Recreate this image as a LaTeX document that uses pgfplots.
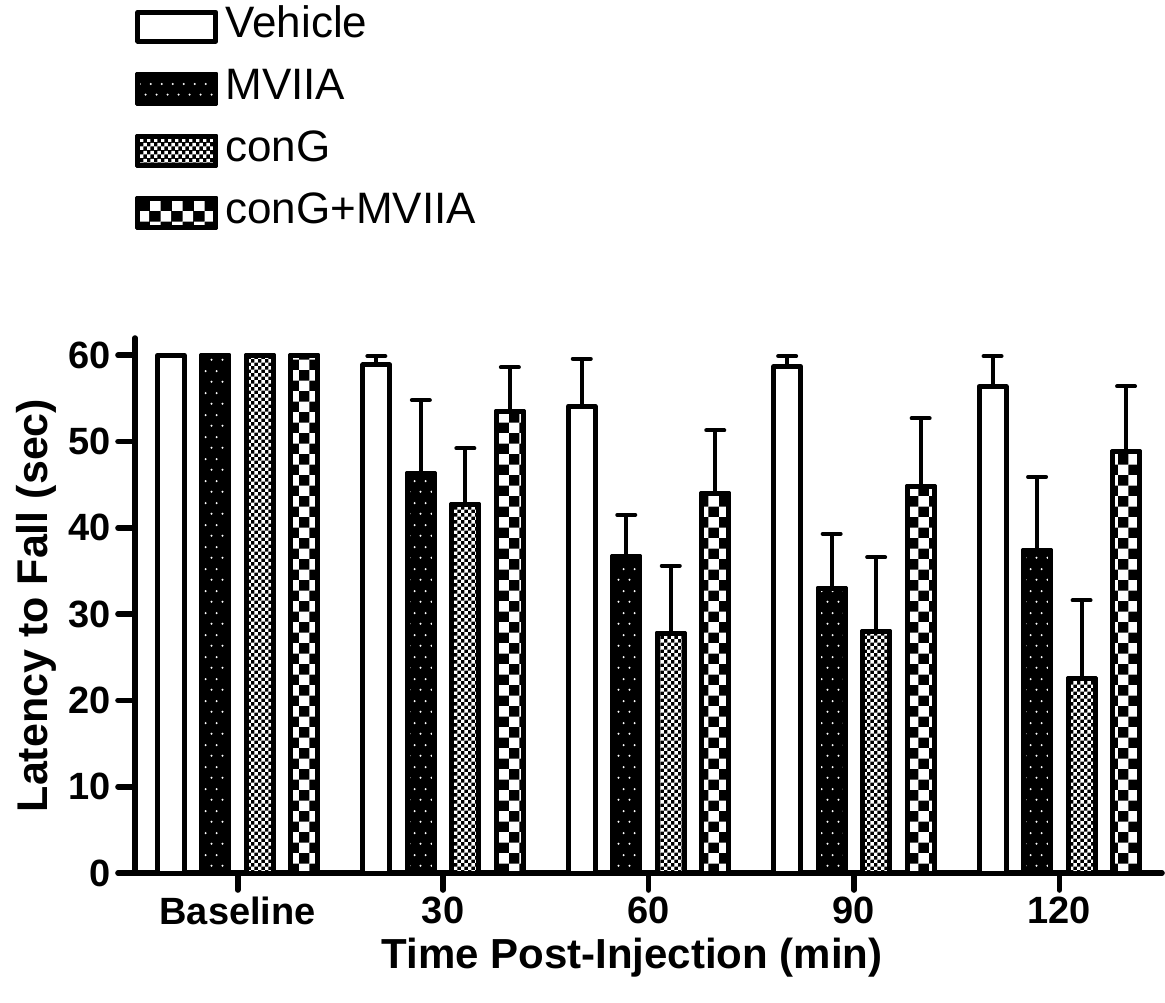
\documentclass[border=0pt]{standalone}
\usepackage{fontspec}
\setmainfont{Liberation Sans}
\usepackage{pgfplots}
\pgfplotsset{compat=1.18}
\usetikzlibrary{patterns}

% white dots, staggered rows (MVIIA)
\pgfdeclarepatternformonly{wdots}{\pgfpointorigin}{\pgfpoint{5.5pt}{11pt}}{\pgfpoint{5.5pt}{11pt}}{
  \pgfpathcircle{\pgfpoint{1.4pt}{2.75pt}}{0.6pt}
  \pgfpathcircle{\pgfpoint{4.15pt}{8.25pt}}{0.6pt}
  \pgfusepath{fill}}
% fine checkerboard (conG)
\pgfdeclarepatternformonly{finecheck}{\pgfpointorigin}{\pgfpoint{3.7pt}{3.7pt}}{\pgfpoint{3.7pt}{3.7pt}}{
  \pgfpathrectangle{\pgfpointorigin}{\pgfpoint{1.85pt}{1.85pt}}
  \pgfpathrectangle{\pgfpoint{1.85pt}{1.85pt}}{\pgfpoint{1.85pt}{1.85pt}}
  \pgfusepath{fill}}
% coarse checkerboard (conG+MVIIA)
\pgfdeclarepatternformonly{coarsecheck}{\pgfpointorigin}{\pgfpoint{10.7pt}{10.7pt}}{\pgfpoint{10.7pt}{10.7pt}}{
  \pgfpathrectangle{\pgfpointorigin}{\pgfpoint{5.35pt}{5.35pt}}
  \pgfpathrectangle{\pgfpoint{5.35pt}{5.35pt}}{\pgfpoint{5.35pt}{5.35pt}}
  \pgfusepath{fill}}

\pgfplotsset{
  barbox/.style={
    draw=black, line width=2.5pt, line join=round,
    legend image code/.code={\draw[##1,/tikz/.cd] (0pt,-7.25pt) rectangle (39pt,7.25pt);},
    error bars/y dir=plus, error bars/y explicit,
    error bars/error bar style={line width=2pt, black},
    error bars/error mark options={rotate=90, black, line width=2pt, mark size=4.5pt, line cap=round},
  },
}

\begin{document}
\begin{tikzpicture}
\begin{axis}[
    ybar=8.75pt, bar width=13.5pt,
    scale only axis, width=513.5pt, height=267.5pt,
    xmin=-0.5, xmax=4.5, ymin=0, ymax=62,
    axis x line*=bottom, axis y line*=left,
    axis line style={line width=2.8pt, line cap=round},
    major tick style={line width=2.8pt, black, line cap=round},
    tick align=outside, major tick length=8.5pt,
    xtick={0,1,2,3,4}, xticklabels={Baseline,30,60,90,120},
    ytick={0,10,...,60},
    /pgf/number format/assume math mode=true,
    tick label style={font=\fontsize{19}{21}\selectfont\bfseries},
    xlabel={Time Post-Injection (min)},
    ylabel={Latency to Fall (sec)},
    every axis x label/.style={at={(axis description cs:0.484,-0.159)}, anchor=center,
      font=\fontsize{21}{25}\selectfont\bfseries},
    every axis y label/.style={at={(axis description cs:-0.0964,0.5)}, rotate=90, anchor=center,
      font=\fontsize{21.5}{25}\selectfont\bfseries},
    legend style={at={(axis description cs:0,1.622)}, anchor=north west, draw=none,
      inner sep=0pt, font=\fontsize{22}{26}\selectfont,
      nodes={inner sep=0pt, text height=16pt, text depth=5pt},
      row sep=10pt, column sep=3.5pt},
    legend cell align={left},
]
\addplot[barbox, fill=white] coordinates {
  (0,60) +- (0,0) (1,58.9) +- (0,1.0) (2,54.1) +- (0,5.5) (3,58.7) +- (0,1.2) (4,56.4) +- (0,3.5)};
\addplot[barbox, preaction={fill=black}, preaction={pattern=wdots, pattern color=white}] coordinates {
  (0,60) +- (0,0) (1,46.3) +- (0,8.5) (2,36.7) +- (0,4.8) (3,33.0) +- (0,6.3) (4,37.4) +- (0,8.5)};
\addplot[barbox, preaction={fill=black}, preaction={pattern=finecheck, pattern color=white}] coordinates {
  (0,60) +- (0,0) (1,42.7) +- (0,6.5) (2,27.8) +- (0,7.8) (3,28.0) +- (0,8.6) (4,22.5) +- (0,9.1)};
\addplot[barbox, preaction={fill=black}, preaction={pattern=coarsecheck, pattern color=white}] coordinates {
  (0,60) +- (0,0) (1,53.5) +- (0,5.1) (2,44.0) +- (0,7.3) (3,44.8) +- (0,7.9) (4,48.8) +- (0,7.6)};
\legend{Vehicle, MVIIA, conG, conG+MVIIA}
\end{axis}
\pgfresetboundingbox
\path[use as bounding box] ([xshift=-67.5pt,yshift=-64.5pt]current axis.south west) rectangle ([xshift=515pt,yshift=436.5pt]current axis.south west);
\end{tikzpicture}
\end{document}
